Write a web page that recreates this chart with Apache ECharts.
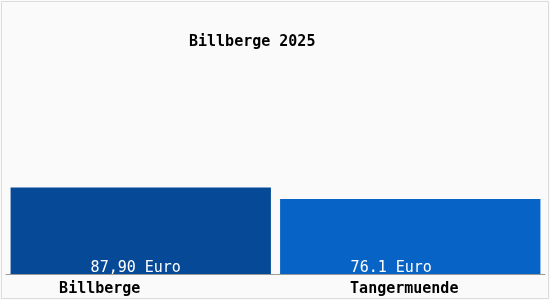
<!DOCTYPE html>
<html><head><meta charset="utf-8">
<script src="https://cdn.jsdelivr.net/npm/echarts@6/dist/echarts.min.js"></script>
<style>html,body{margin:0;padding:0;background:#fafafa}#c{width:550px;height:300px}</style>
</head><body><div id="c"></div>
<script>
const titleText = "Billberge 2025";
const categories = ["Billberge", "Tangermuende"];
const values = [87.90, 76.1];
const valueLabels = ["87,90 Euro", "76.1 Euro"];

const barColors = ["#064996", "#0863c6"];
const labelShift = [[-5, 2], [-19, 2]];
const font = "'DejaVu Sans Mono', 'Liberation Mono', monospace";
const chart = echarts.init(document.getElementById('c'), null, {renderer: 'canvas'});
chart.setOption({
  backgroundColor: '#fafafa',
  animation: false,
  title: {
    text: titleText, left: 184, top: 30,
    textStyle: {fontFamily: font, fontSize: 15, fontWeight: 'bold', color: '#000'}
  },
  graphic: [
    {type: 'rect', shape: {x: 1.5, y: 1.5, width: 547, height: 297}, style: {fill: 'none', stroke: '#dcdcdc', lineWidth: 1}, silent: true}
  ],
  grid: {left: 6, right: 5, top: 175.5, bottom: 26, containLabel: false},
  xAxis: {
    type: 'category', data: categories,
    axisTick: {show: false},
    axisLine: {show: true, onZero: false, lineStyle: {color: '#999', width: 1}},
    axisLabel: {
      fontFamily: font, fontSize: 15, color: '#000', margin: 8,
      formatter: (v, i) => i === 0 ? '{a|' + v + '}' : '{b|' + v + '}',
      rich: {
        a: {fontFamily: font, fontSize: 15, fontWeight: 'bold', color: '#000', padding: [0, 82, 0, 0]},
        b: {fontFamily: font, fontSize: 15, fontWeight: 'bold', color: '#000', padding: [0, 12, 0, 0]}
      }
    }
  },
  yAxis: {type: 'value', min: 0, max: 100, show: false, splitLine: {show: false}},
  series: [{
    type: 'bar', barCategoryGap: '3.4%',
    data: values.map((v, i) => ({value: v, itemStyle: {color: barColors[i]}, label: {offset: labelShift[i]}})),
    label: {
      show: true, position: 'insideBottom', distance: 0,
      formatter: p => valueLabels[p.dataIndex],
      fontFamily: font, fontSize: 15, color: '#fff'
    }
  }]
});
</script></body></html>
